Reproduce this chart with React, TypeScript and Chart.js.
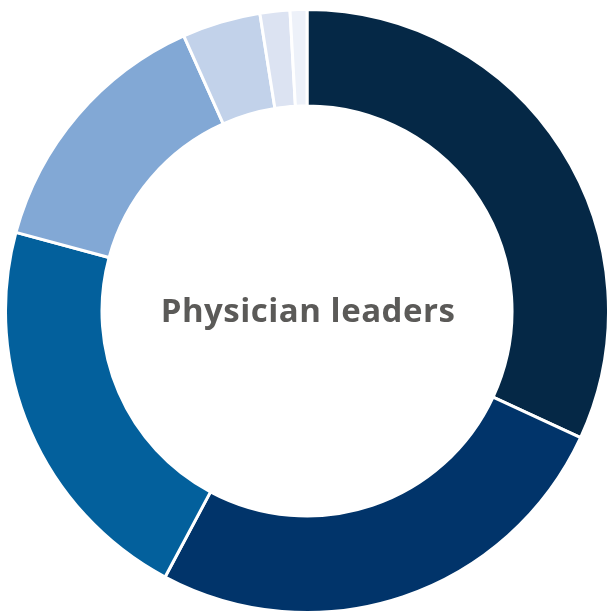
import React, { useEffect, useRef } from "react";
import { Chart, registerables } from "chart.js";

Chart.register(...registerables);

const categories = ["Group A", "Group B", "Group C", "Group D", "Group E", "Group F", "Group G"];
const values = [31.9, 25.9, 21.4, 14.1, 4.2, 1.6, 0.9];
const colors = ["#052846", "#01346A", "#03609C", "#82A8D5", "#C2D2EA", "#DCE3F2", "#EDF1F9"];
const centerLabel = "Physician leaders";

export default function App() {
  const ref = useRef<HTMLCanvasElement>(null);
  useEffect(() => {
    if (!ref.current) return;
    const chart = new Chart(ref.current, {
      type: "doughnut",
      data: {
        labels: categories,
        datasets: [
          {
            data: values,
            backgroundColor: colors,
            borderColor: "#ffffff",
            borderWidth: 3,
          },
        ],
      },
      options: {
        responsive: false,
        animation: false,
        cutout: "68%",
        layout: { padding: 0 },
        plugins: { legend: { display: false }, tooltip: { enabled: false } },
      },
    });
    return () => chart.destroy();
  }, []);
  return (
    <div style={{ position: "fixed", left: 0, top: 0, width: 607, height: 612, background: "#fff", overflow: "hidden" }}>
      <canvas ref={ref} width={606} height={606} style={{ position: "absolute", left: 4, top: 8, width: 606, height: 606 }} />
      <div
        style={{
          position: "absolute",
          left: 0,
          width: 616,
          top: 290,
          textAlign: "center",
          fontFamily: "'Open Sans', sans-serif",
          fontWeight: 700,
          fontSize: 33,
          letterSpacing: 0.5,
          lineHeight: "40px",
          color: "#5b5a58",
          whiteSpace: "nowrap",
        }}
      >
        {centerLabel}
      </div>
    </div>
  );
}
